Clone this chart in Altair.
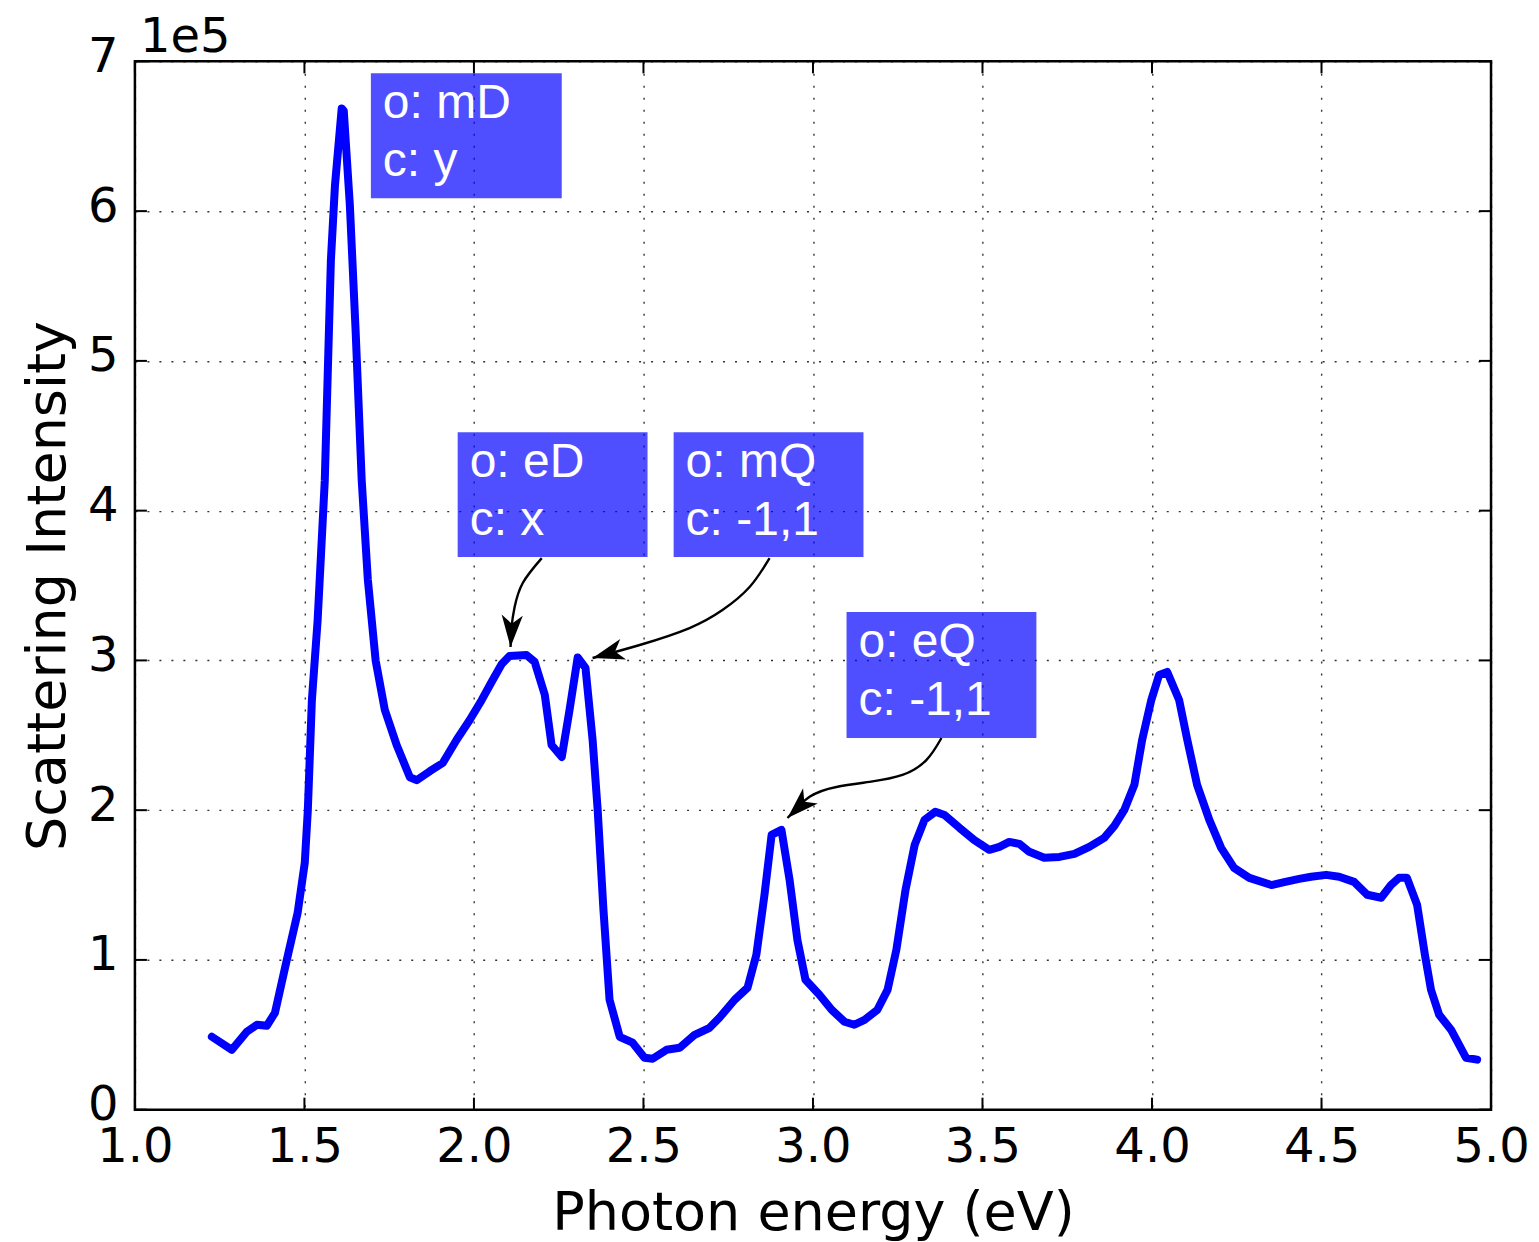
import altair as alt
import pandas as pd

# ---- data (intensity in units of 1e5) ----
energy = [1.227, 1.286, 1.330, 1.360, 1.389, 1.413, 1.448, 1.480, 1.501, 1.510,
          1.522, 1.539, 1.560, 1.578, 1.590, 1.610, 1.616, 1.634, 1.651, 1.669,
          1.687, 1.710, 1.737, 1.772, 1.811, 1.831, 1.870, 1.908, 1.949, 1.987,
          2.023, 2.052, 2.082, 2.105, 2.155, 2.179, 2.209, 2.229, 2.259, 2.282,
          2.306, 2.329, 2.350, 2.365, 2.382, 2.400, 2.430, 2.468, 2.503, 2.527,
          2.568, 2.607, 2.651, 2.695, 2.724, 2.769, 2.807, 2.833, 2.857, 2.878,
          2.907, 2.931, 2.954, 2.978, 3.019, 3.055, 3.093, 3.122, 3.152, 3.190,
          3.220, 3.246, 3.273, 3.300, 3.329, 3.361, 3.388, 3.432, 3.476, 3.520,
          3.550, 3.579, 3.609, 3.638, 3.682, 3.727, 3.771, 3.815, 3.859, 3.889,
          3.918, 3.948, 3.971, 3.998, 4.021, 4.045, 4.080, 4.104, 4.133, 4.169,
          4.204, 4.242, 4.287, 4.352, 4.390, 4.434, 4.469, 4.514, 4.552, 4.596,
          4.635, 4.676, 4.705, 4.729, 4.752, 4.782, 4.805, 4.823, 4.847, 4.882,
          4.926, 4.959]
intensity = [0.487, 0.400, 0.520, 0.567, 0.560, 0.647, 1.000, 1.315, 1.648, 2.000,
             2.736, 3.270, 4.200, 5.670, 6.170, 6.686, 6.670, 6.040, 5.200, 4.200,
             3.540, 3.000, 2.670, 2.435, 2.220, 2.200, 2.260, 2.315, 2.470, 2.600,
             2.736, 2.856, 2.976, 3.030, 3.036, 2.990, 2.770, 2.435, 2.355, 2.670,
             3.020, 2.950, 2.470, 2.000, 1.335, 0.734, 0.487, 0.447, 0.347, 0.340,
             0.400, 0.414, 0.500, 0.547, 0.614, 0.734, 0.814, 1.034, 1.435, 1.835,
             1.868, 1.535, 1.134, 0.867, 0.767, 0.667, 0.587, 0.567, 0.600, 0.667,
             0.800, 1.068, 1.468, 1.768, 1.935, 1.989, 1.968, 1.882, 1.800, 1.735,
             1.755, 1.788, 1.775, 1.722, 1.682, 1.688, 1.708, 1.755, 1.815, 1.895,
             2.000, 2.169, 2.470, 2.736, 2.903, 2.923, 2.736, 2.470, 2.169, 1.935,
             1.748, 1.615, 1.548, 1.500, 1.520, 1.541, 1.555, 1.568, 1.555, 1.521,
             1.435, 1.415, 1.500, 1.548, 1.548, 1.368, 1.034, 0.800, 0.634, 0.534,
             0.347, 0.334]

x_ticks = [1.0, 1.5, 2.0, 2.5, 3.0, 3.5, 4.0, 4.5, 5.0]
y_ticks = [0, 1, 2, 3, 4, 5, 6, 7]

# annotation boxes (data coords): left, right, top, bottom
ann_line1 = ["o: mD", "o: eD", "o: mQ", "o: eQ"]
ann_line2 = ["c: y", "c: x", "c: -1,1", "c: -1,1"]
box_left = [1.696, 1.952, 2.589, 3.099]
box_right = [2.259, 2.512, 3.149, 3.659]
box_top = [6.920, 4.524, 4.524, 3.323]
box_bottom = [6.086, 3.690, 3.690, 2.482]

# arrow paths (data coords), from box to the curve
arrow_id = ["eD"] * 5 + ["mQ"] * 6 + ["eQ"] * 7
arrow_x = [2.200, 2.144, 2.120, 2.111, 2.108,
           2.872, 2.813, 2.733, 2.636, 2.489, 2.350,
           3.379, 3.335, 3.264, 3.167, 3.069, 2.990, 2.925]
arrow_y = [3.683, 3.517, 3.356, 3.223, 3.090,
           3.683, 3.490, 3.336, 3.216, 3.103, 3.016,
           2.482, 2.336, 2.235, 2.189, 2.155, 2.089, 1.948]
head_x = [2.108, 2.350, 2.925]
head_y = [3.090, 3.016, 1.948]
head_angle = [183, 254, 226]

W, H = 1357, 1049
TICK = 12
FONT_AX = "DejaVu Sans"
FONT_ANN = "Liberation Sans"

xs = alt.Scale(domain=[1.0, 5.0], nice=False, zero=False)
ys = alt.Scale(domain=[0, 7], nice=False, zero=False)

curve = pd.DataFrame({"energy": energy, "intensity": intensity})
boxes = pd.DataFrame({"l1": ann_line1, "l2": ann_line2, "x": box_left, "x2": box_right,
                      "y": box_top, "y2": box_bottom})
arrows = pd.DataFrame({"id": arrow_id, "x": arrow_x, "y": arrow_y,
                       "i": list(range(len(arrow_x)))})
heads = pd.DataFrame({"x": head_x, "y": head_y, "a": head_angle})
xt = pd.DataFrame({"t": x_ticks})
yt = pd.DataFrame({"t": y_ticks})

x_axis = alt.Axis(values=x_ticks, format=".1f", title="Photon energy (eV)",
                  labelPadding=14, labelFlush=False, labelOverlap=False,
                  titleY=120, titleX=W / 2, titleBaseline="alphabetic",
                  titleAlign="center")
y_axis = alt.Axis(values=y_ticks, format="d", title="Scattering Intensity",
                  labelPadding=17, labelFlush=False, labelOverlap=False, labelOffset=-4,
                  titleAngle=-90, titleX=-70, titleY=H / 2,
                  titleBaseline="alphabetic", titleAlign="center")

line = alt.Chart(curve).mark_line(color="#0000ff", strokeWidth=8,
                                  strokeJoin="round", strokeCap="round").encode(
    x=alt.X("energy:Q", scale=xs, axis=x_axis),
    y=alt.Y("intensity:Q", scale=ys, axis=y_axis),
)

rects = alt.Chart(boxes).mark_rect(color="#0000ff", opacity=0.69).encode(
    x=alt.X("x:Q", scale=xs), x2="x2:Q",
    y=alt.Y("y:Q", scale=ys), y2="y2:Q",
)
txt1 = alt.Chart(boxes).mark_text(color="white", font=FONT_ANN, fontSize=48,
                                  align="left", baseline="alphabetic", dx=12, dy=45).encode(
    x=alt.X("x:Q", scale=xs), y=alt.Y("y:Q", scale=ys), text="l1:N")
txt2 = alt.Chart(boxes).mark_text(color="white", font=FONT_ANN, fontSize=48,
                                  align="left", baseline="alphabetic", dx=12, dy=103).encode(
    x=alt.X("x:Q", scale=xs), y=alt.Y("y:Q", scale=ys), text="l2:N")

arrow_lines = alt.Chart(arrows).mark_line(color="black", strokeWidth=2.4,
                                          interpolate="natural").encode(
    x=alt.X("x:Q", scale=xs), y=alt.Y("y:Q", scale=ys),
    detail="id:N", order="i:Q")
arrow_heads = alt.Chart(heads).mark_point(
    shape="M0,0 L-0.5,1.5 L0,1.1 L0.5,1.5 Z", filled=True, color="black",
    opacity=1, size=1800).encode(
    x=alt.X("x:Q", scale=xs), y=alt.Y("y:Q", scale=ys),
    angle=alt.Angle("a:Q", scale=None))

tick_style = dict(color="black", strokeWidth=2)
xb = alt.Chart(xt).mark_rule(**tick_style).encode(
    x=alt.X("t:Q", scale=xs), y=alt.value(H), y2=alt.value(H - TICK))
xtp = alt.Chart(xt).mark_rule(**tick_style).encode(
    x=alt.X("t:Q", scale=xs), y=alt.value(0), y2=alt.value(TICK))
yl = alt.Chart(yt).mark_rule(**tick_style).encode(
    y=alt.Y("t:Q", scale=ys), x=alt.value(0), x2=alt.value(TICK))
yr = alt.Chart(yt).mark_rule(**tick_style).encode(
    y=alt.Y("t:Q", scale=ys), x=alt.value(W), x2=alt.value(W - TICK))

offset = alt.Chart(pd.DataFrame({"s": ["1e5"]})).mark_text(
    font=FONT_AX, fontSize=48, color="black", align="left", baseline="alphabetic").encode(
    x=alt.value(5), y=alt.value(-9), text="s:N")

chart = alt.layer(line, rects, txt1, txt2, arrow_lines, arrow_heads,
                  xb, xtp, yl, yr, offset).properties(
    width=W, height=H,
    background="white",
    autosize=alt.AutoSizeParams(type="none"),
    padding={"left": 127, "top": 53, "right": 40, "bottom": 140},
).configure_view(stroke="black", strokeWidth=2.5).configure_axis(
    grid=True, gridDash=[2, 10], gridColor="black", gridOpacity=0.8, gridWidth=1.4,
    domain=False, ticks=False, tickSize=0,
    labelFont=FONT_AX, labelFontSize=48, labelColor="black",
    titleFont=FONT_AX, titleFontSize=54, titleFontWeight="normal", titleColor="black",
)

chart.save("out.html", embed_options={"renderer": "svg", "actions": False})
